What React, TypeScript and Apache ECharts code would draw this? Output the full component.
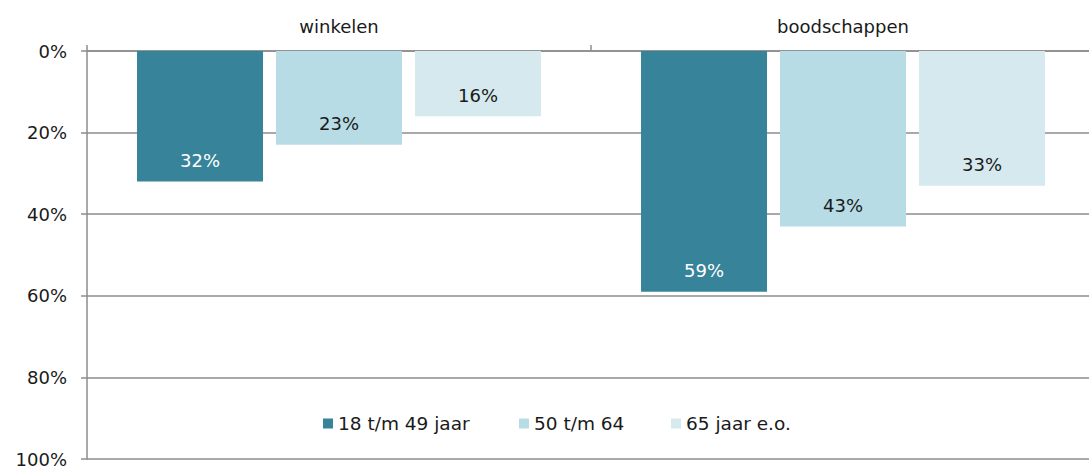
import React, { useEffect, useRef } from "react";
import * as echarts from "echarts";

const categories = ["winkelen", "boodschappen"];
const seriesNames = ["18 t/m 49 jaar", "50 t/m 64", "65 jaar e.o."];
const young = [32, 59];
const middle = [23, 43];
const senior = [16, 33];
const colors = ["#37839a", "#b7dce5", "#d5e9ef"];
const labelColors = ["#ffffff", "#1a1a1a", "#1a1a1a"];
const legendLeft = [323, 519, 671];

const FONT = "DejaVu Sans, Verdana, sans-serif";
const GRID = "#8c8c8c";

export default function App() {
  const ref = useRef<HTMLDivElement>(null);
  useEffect(() => {
    if (!ref.current) return;
    const chart = echarts.init(ref.current, null, { renderer: "svg" });
    const data = [young, middle, senior];
    chart.setOption({
      animation: false,
      textStyle: { fontFamily: FONT },
      grid: {
        left: 87,
        width: 1008,
        top: 51,
        height: 408,
        containLabel: false,
        outerBoundsMode: "none",
      },
      legend: seriesNames.map((name, i) => ({
        left: legendLeft[i],
        top: 414,
        padding: 0,
        itemWidth: 10,
        itemHeight: 10,
        icon: "rect",
        textStyle: { fontSize: 18.5, color: "#1a1a1a", fontFamily: FONT },
        data: [name],
      })),
      xAxis: {
        type: "category",
        position: "top",
        data: categories,
        axisLine: { show: true, lineStyle: { color: GRID, width: 1.5 } },
        axisTick: { show: true, length: 6, lineStyle: { color: GRID, width: 1.5 } },
        axisLabel: { fontSize: 18, color: "#1a1a1a", margin: 16, fontFamily: FONT },
        splitLine: { show: false },
      },
      yAxis: {
        type: "value",
        inverse: true,
        min: 0,
        max: 100,
        interval: 20,
        axisLine: { show: true, lineStyle: { color: GRID, width: 1.5 } },
        axisTick: { show: true, length: 6, lineStyle: { color: GRID, width: 1.5 } },
        axisLabel: {
          fontSize: 18,
          lineHeight: 14,
          color: "#1a1a1a",
          margin: 20,
          formatter: "{value}%",
          fontFamily: FONT,
        },
        splitLine: { show: true, lineStyle: { color: GRID, width: 1.5 } },
      },
      series: seriesNames.map((name, i) => ({
        name,
        type: "bar",
        data: data[i],
        barWidth: 126,
        barGap: "10.3%",
        itemStyle: { color: colors[i] },
        label: {
          show: true,
          position: "insideBottom",
          distance: 12,
          formatter: "{c}%",
          fontSize: 18,
          color: labelColors[i],
          fontFamily: FONT,
        },
      })),
    });
    return () => chart.dispose();
  }, []);
  return (
    <div
      ref={ref}
      style={{ position: "fixed", left: 0, top: 0, width: 1089, height: 467, background: "#fff" }}
    />
  );
}
